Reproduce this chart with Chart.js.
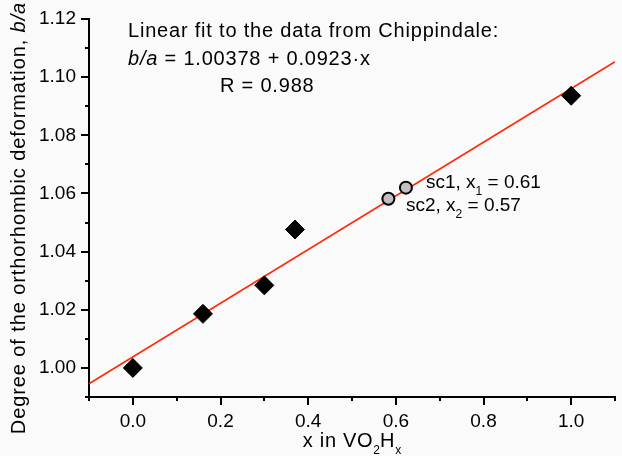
<!DOCTYPE html>
<html>
<head>
<meta charset="utf-8">
<script src="https://cdn.jsdelivr.net/npm/chart.js@4/dist/chart.umd.min.js"></script>
<style>
  html, body { margin: 0; padding: 0; background: #fafafa; overflow: hidden; }
  canvas { display: block; }
</style>
</head>
<body>
<canvas id="chart" width="622" height="456"></canvas>
<script>
const FONT = '"Liberation Sans", Arial, sans-serif';

// measured samples (diamonds)
const sampleX = [0.0, 0.16, 0.30, 0.37, 1.0];
const sampleY = [1.000, 1.0186, 1.0284, 1.0476, 1.0936];

// sc1 / sc2 (grey circles)
const scX = [0.623, 0.583];
const scY = [1.0620, 1.0582];

// linear fit b/a = 1.00378 + 0.0923 x, end points at the axis limits
const fitX = [-0.1, 1.1];
const fitY = [0.99455, 1.10531];

// tick labels
const xMajor = [0.0, 0.2, 0.4, 0.6, 0.8, 1.0];
const yMajor = [1.00, 1.02, 1.04, 1.06, 1.08, 1.10, 1.12];

const isMajor = (v, list) => list.some(m => Math.abs(m - v) < 1e-6);

function rich(ctx, x, y, parts, size, spacing) {
  parts.forEach(([t, s]) => {
    const sub = s === 's';
    const fs = sub ? Math.round(size * 0.62) : size;
    ctx.font = (s === 'i' ? 'italic ' : '') + fs + 'px ' + FONT;
    ctx.letterSpacing = (sub ? 0 : spacing) + 'px';
    ctx.fillText(t, x, y + (sub ? size * 0.36 : 0));
    x += ctx.measureText(t).width;
  });
  return x;
}

function richWidth(ctx, parts, size, spacing) {
  let w = 0;
  parts.forEach(([t, s]) => {
    const sub = s === 's';
    const fs = sub ? Math.round(size * 0.62) : size;
    ctx.font = (s === 'i' ? 'italic ' : '') + fs + 'px ' + FONT;
    ctx.letterSpacing = (sub ? 0 : spacing) + 'px';
    w += ctx.measureText(t).width;
  });
  return w;
}

const overlay = {
  id: 'overlay',
  afterDraw(chart) {
    const ctx = chart.ctx;
    const xs = chart.scales.x, ys = chart.scales.y;
    const area = chart.chartArea;
    ctx.save();

    // ticks, major and minor, pointing outward
    ctx.strokeStyle = '#000';
    ctx.lineWidth = 2;
    ctx.beginPath();
    xs.ticks.forEach(t => {
      const px = Math.round(xs.getPixelForValue(t.value));
      const len = isMajor(t.value, xMajor) ? 8 : 4;
      ctx.moveTo(px, area.bottom);
      ctx.lineTo(px, area.bottom + len);
    });
    ys.ticks.forEach(t => {
      const py = Math.round(ys.getPixelForValue(t.value));
      const len = isMajor(t.value, yMajor) ? 8 : 4;
      ctx.moveTo(area.left, py);
      ctx.lineTo(area.left - len, py);
    });
    ctx.stroke();

    ctx.fillStyle = '#000';
    ctx.textAlign = 'left';
    ctx.textBaseline = 'alphabetic';

    // fit annotation
    rich(ctx, 128, 37, [['Linear fit to the data from Chippindale:']], 20, 0.8);
    rich(ctx, 128, 65, [['b/a', 'i'], [' = 1.00378 + 0.0923\u00b7x']], 20, 0.8);
    rich(ctx, 220, 92, [['R = 0.988']], 20, 0.8);

    // sample labels
    rich(ctx, 426, 188, [['sc1, x'], ['1', 's'], [' = 0.61']], 19, 0);
    rich(ctx, 406, 211, [['sc2, x'], ['2', 's'], [' = 0.57']], 19, 0);

    // x axis title
    const xt = [['x in VO'], ['2', 's'], ['H'], ['x', 's']];
    const xw = richWidth(ctx, xt, 20, 0.7);
    rich(ctx, (area.left + area.right) / 2 - xw / 2, 447, xt, 20, 0.7);

    // y axis title
    const yt = [['Degree of the orthorhombic deformation, '], ['b/a', 'i']];
    const yw = richWidth(ctx, yt, 20, 0.9);
    ctx.translate(25, 218);
    ctx.rotate(-Math.PI / 2);
    rich(ctx, -yw / 2, 0, yt, 20, 0.9);

    ctx.restore();
  }
};

new Chart(document.getElementById('chart'), {
  type: 'scatter',
  data: {
    datasets: [
      {
        label: 'sc',
        data: scX.map((x, i) => ({ x: x, y: scY[i] })),
        pointStyle: 'circle',
        pointRadius: 6,
        backgroundColor: '#c0c0c0',
        borderColor: '#000',
        borderWidth: 2,
        order: 1
      },
      {
        label: 'Chippindale',
        data: sampleX.map((x, i) => ({ x: x, y: sampleY[i] })),
        pointStyle: 'rectRot',
        pointRadius: 9.5,
        backgroundColor: '#000',
        borderColor: '#000',
        borderWidth: 1,
        order: 2
      },
      {
        label: 'fit',
        data: fitX.map((x, i) => ({ x: x, y: fitY[i] })),
        showLine: true,
        pointRadius: 0,
        borderColor: '#ff2a0a',
        borderWidth: 1.6,
        order: 3
      }
    ]
  },
  options: {
    responsive: false,
    animation: false,
    layout: { autoPadding: false, padding: { left: 0, right: 7, top: 19, bottom: 0 } },
    plugins: { legend: { display: false }, tooltip: { enabled: false } },
    scales: {
      x: {
        type: 'linear',
        min: -0.1,
        max: 1.1,
        afterFit: s => { s.height = 59; s.paddingLeft = 0; s.paddingRight = 0; },
        ticks: {
          stepSize: 0.1,
          maxTicksLimit: 100,
          autoSkip: false,
          maxRotation: 0,
          padding: 5,
          color: '#000',
          font: { size: 19, family: FONT },
          callback: v => isMajor(v, xMajor) ? v.toFixed(1) : ''
        },
        grid: { drawOnChartArea: false, drawTicks: true, tickLength: 8, color: 'rgba(0,0,0,0)' },
        border: { color: '#000', width: 2 }
      },
      y: {
        type: 'linear',
        min: 0.99,
        max: 1.12,
        afterFit: s => { s.width = 89; s.paddingTop = 0; s.paddingBottom = 0; },
        ticks: {
          stepSize: 0.01,
          maxTicksLimit: 100,
          autoSkip: false,
          padding: 5,
          color: '#000',
          font: { size: 19, family: FONT },
          callback: v => isMajor(v, yMajor) ? v.toFixed(2) : ''
        },
        grid: { drawOnChartArea: false, drawTicks: true, tickLength: 8, color: 'rgba(0,0,0,0)' },
        border: { color: '#000', width: 2 }
      }
    }
  },
  plugins: [overlay]
});
</script>
</body>
</html>
